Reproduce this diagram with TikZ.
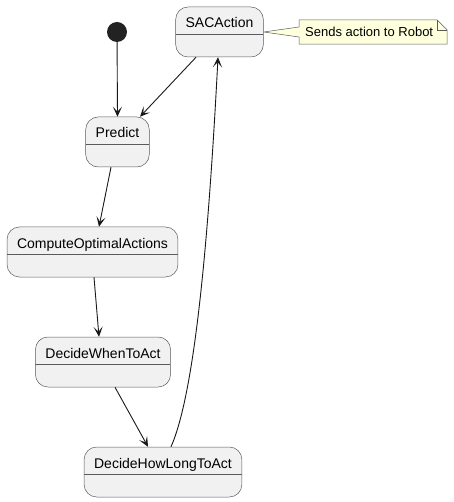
\documentclass[tikz,border=0pt]{standalone}
\usepackage{fontspec}
\setmainfont{Liberation Sans}
\usepackage{tikz}
\usetikzlibrary{arrows.meta, positioning, backgrounds}
\definecolor{statefill}{HTML}{F1F1F1}
\definecolor{stateline}{HTML}{181818}
\definecolor{boxline}{HTML}{5A5A5A}
\definecolor{notefill}{HTML}{FEFFDD}
\definecolor{dotfill}{HTML}{222222}

\begin{document}
\begin{tikzpicture}[
  x=1pt, y=-1pt,
  statebox/.style={rectangle, rounded corners=12.5pt, draw=boxline, fill=statefill, line width=0.5pt,
    font=\fontsize{14}{16}\selectfont, inner xsep=10pt, inner ysep=0pt, text height=21pt, text depth=29pt,
    path picture={\draw[draw=boxline, line width=0.5pt]
      ([yshift=-27pt]path picture bounding box.north west) -- ([yshift=-27pt]path picture bounding box.north east);}},
  startdot/.style={circle, fill=dotfill, minimum size=20pt, inner sep=0pt},
  notetext/.style={font=\fontsize{13}{15}\selectfont, anchor=west, minimum height=24pt, inner xsep=6pt, inner ysep=0pt},
  notebox/.style={draw=boxline, fill=notefill, line width=0.5pt, line join=miter},
  arr/.style={-{Stealth[length=10pt, width=9pt, inset=5pt]}, line width=0.9pt, draw=stateline}
]
  \useasboundingbox (0,0) rectangle (453,502);

  \node[startdot] (start) at (117,32) {};

  \node[statebox] (sacaction) at (219.5,32) {SACAction};
  \node[statebox] (predict) at (117.5,142) {Predict};
  \node[statebox] (compute) at (92.5,252) {ComputeOptimalActions};
  \node[statebox] (decidewhen) at (103,362) {DecideWhenToAct};
  \node[statebox] (decidehowlong) at (163,472) {DecideHowLongToAct};

  \node[notetext] (note) at (299,32) {Sends action to Robot};
  \begin{scope}[on background layer]
    \draw[notebox] (note.north west) -- ([xshift=138pt]note.north west)
      -- ([xshift=148pt, yshift=-10pt]note.north west) -- ([xshift=148pt]note.south west) -- (note.south west)
      -- ([yshift=-5pt]note.west) -- (sacaction.east) -- ([yshift=5pt]note.west) -- cycle;
    \draw[notebox, fill=none] ([xshift=138pt]note.north west) -- ([xshift=138pt, yshift=-10pt]note.north west)
      -- ([xshift=148pt, yshift=-10pt]note.north west);
  \end{scope}

  \draw[arr] (start) -- (predict.north);
  \draw[arr] ([xshift=-23.5pt]sacaction.south) -- ([xshift=22.5pt]predict.north);
  \draw[arr] ([xshift=-6.5pt]predict.south) -- ([xshift=6.5pt]compute.north);
  \draw[arr] ([xshift=1.5pt]compute.south) -- ([xshift=-4pt]decidewhen.north);
  \draw[arr] ([xshift=12pt]decidewhen.south) -- ([xshift=-15pt]decidehowlong.north);
  \draw[arr] ([xshift=8pt]decidehowlong.north) .. controls (194,395) and (208,250) .. ([xshift=-1.5pt]sacaction.south);

\end{tikzpicture}
\end{document}
